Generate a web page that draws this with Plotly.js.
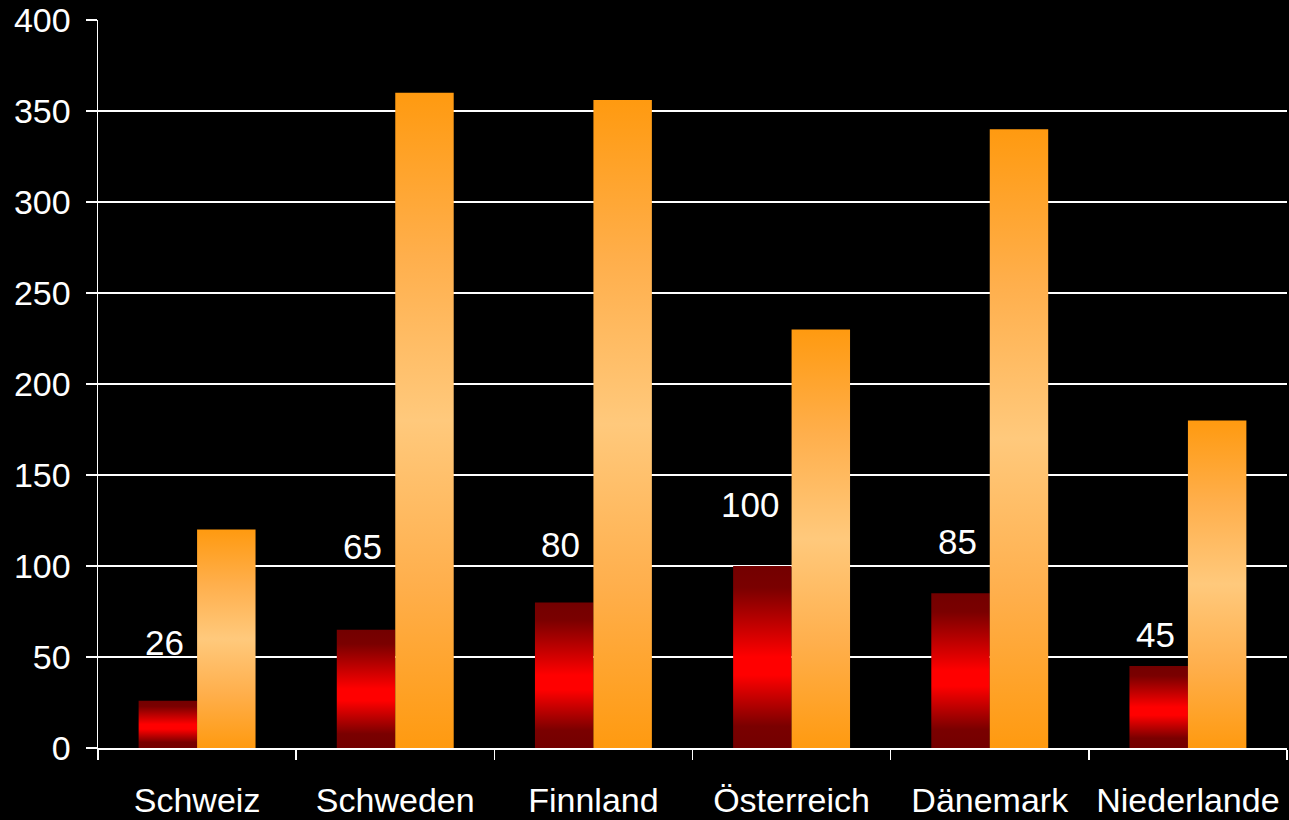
<!DOCTYPE html>
<html>
<head>
<meta charset="utf-8">
<script src="https://cdn.plot.ly/plotly-3.0.1.min.js"></script>
<style>
html,body{margin:0;padding:0;background:#000;}
#chart{width:1289px;height:820px;}
</style>
</head>
<body>
<div id="chart"></div>
<script>
// ---- data ----
var categories = ["Schweiz", "Schweden", "Finnland", "Österreich", "Dänemark", "Niederlande"];
var seriesRed = [26, 65, 80, 100, 85, 45];
var seriesOrange = [120, 360, 356, 230, 340, 180];
var yTicks = [0, 50, 100, 150, 200, 250, 300, 350, 400];

// label vertical offsets (px, presentation only)
var labelShift = [37, 62, 36, 40, 30, 10];

var FONT = "Liberation Sans, Arial, sans-serif";

var traces = [
  {
    type: "bar", x: categories, y: seriesRed, name: "red",
    marker: {color: "#ff0000", line: {width: 0}},
    hoverinfo: "none"
  },
  {
    type: "bar", x: categories, y: seriesOrange, name: "orange",
    marker: {color: "#ff9a10", line: {width: 0}},
    hoverinfo: "none"
  }
];

var annotations = categories.map(function (c, i) {
  return {
    x: c, y: seriesRed[i], xref: "x", yref: "y",
    text: String(seriesRed[i]), showarrow: false,
    xanchor: "right", yanchor: "bottom",
    xshift: -11, yshift: labelShift[i],
    font: {family: FONT, size: 35, color: "#ffffff"}
  };
});

var layout = {
  width: 1289, height: 820,
  paper_bgcolor: "#000000", plot_bgcolor: "#000000",
  margin: {l: 98, r: 2, t: 20, b: 72},
  showlegend: false,
  barmode: "group", bargap: 0.41, bargroupgap: 0,
  font: {family: FONT, color: "#ffffff"},
  xaxis: {
    type: "category",
    showgrid: false, zeroline: false,
    showline: true, linecolor: "#ffffff", linewidth: 2,
    ticks: "outside", tickson: "boundaries", ticklen: 10, tickwidth: 1.5, tickcolor: "#ffffff",
    tickfont: {family: FONT, size: 34, color: "#ffffff"},
    ticklabelstandoff: 21
  },
  yaxis: {
    range: [0, 400], tickvals: yTicks, ticktext: yTicks.map(String),
    showgrid: true, gridcolor: "#ffffff", gridwidth: 1.5,
    zeroline: false,
    showline: true, linecolor: "#ffffff", linewidth: 1.5,
    ticks: "outside", ticklen: 11, tickwidth: 1.5, tickcolor: "#ffffff",
    tickfont: {family: FONT, size: 34, color: "#ffffff"},
    ticklabelstandoff: 8
  },
  annotations: annotations
};

function applyGradients(gd) {
  var svg = gd.querySelector("svg.main-svg");
  if (!svg) return;
  var ns = "http://www.w3.org/2000/svg";
  var defs = svg.querySelector("defs");
  if (!defs) { defs = document.createElementNS(ns, "defs"); svg.insertBefore(defs, svg.firstChild); }
  function mk(id, stops) {
    if (document.getElementById(id)) return;
    var g = document.createElementNS(ns, "linearGradient");
    g.setAttribute("id", id);
    g.setAttribute("x1", "0"); g.setAttribute("y1", "0");
    g.setAttribute("x2", "0"); g.setAttribute("y2", "1");
    stops.forEach(function (s) {
      var st = document.createElementNS(ns, "stop");
      st.setAttribute("offset", s[0]);
      st.setAttribute("stop-color", s[1]);
      g.appendChild(st);
    });
    defs.appendChild(g);
  }
  mk("gradRed", [["0", "#730000"], ["0.12", "#7a0000"], ["0.5", "#ff0000"], ["0.6", "#ff0000"], ["0.88", "#7a0000"], ["1", "#730000"]]);
  mk("gradOrange", [["0", "#ff9a10"], ["0.25", "#ffaf4c"], ["0.5", "#ffc97c"], ["0.75", "#ffaf4c"], ["1", "#ff9a10"]]);
  var traceGroups = gd.querySelectorAll("g.barlayer g.trace");
  traceGroups.forEach(function (tg, ti) {
    var id = ti === 0 ? "gradRed" : "gradOrange";
    tg.querySelectorAll("path").forEach(function (p) {
      p.style.fill = "url(#" + id + ")";
    });
  });
}

var gd = document.getElementById("chart");
Plotly.newPlot(gd, traces, layout, {displayModeBar: false, staticPlot: true}).then(function () {
  applyGradients(gd);
  gd.on("plotly_afterplot", function () { applyGradients(gd); });
});
</script>
</body>
</html>
